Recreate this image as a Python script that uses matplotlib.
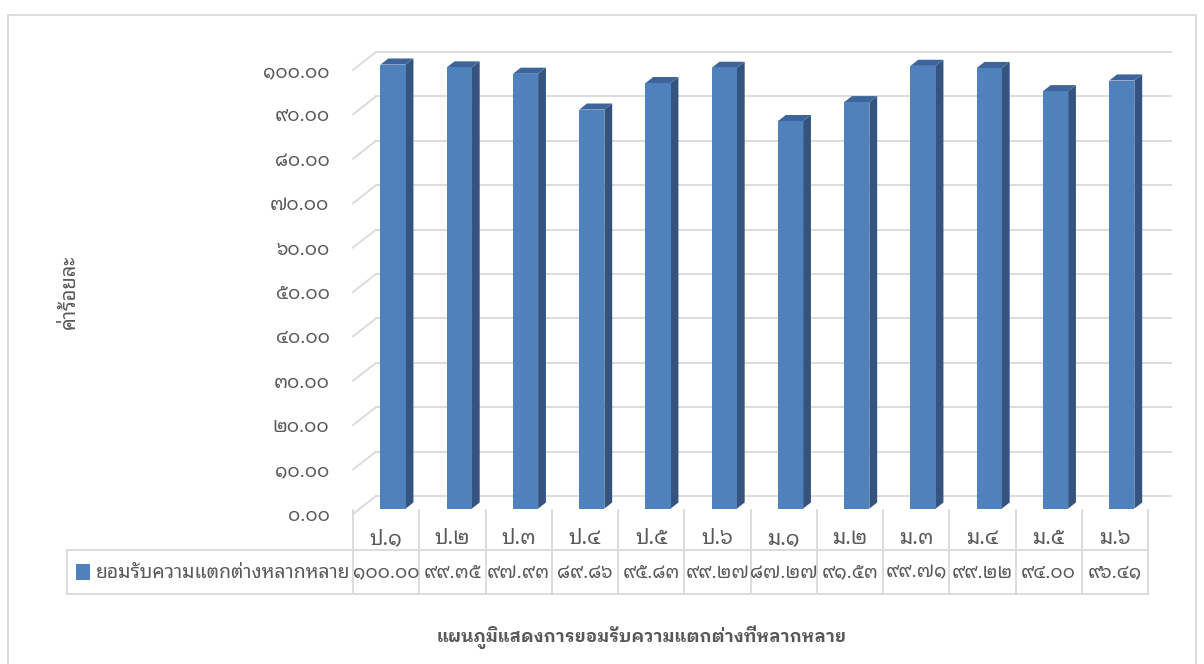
import matplotlib
matplotlib.use("Agg")
import matplotlib.pyplot as plt
from matplotlib.patches import Polygon, Rectangle

plt.rcParams['font.family'] = ['Noto Sans Thai Looped', 'DejaVu Sans']

# arabic -> thai digits
TH = str.maketrans('0123456789', '๐๑๒๓๔๕๖๗๘๙')

categories = ['ป.1', 'ป.2', 'ป.3', 'ป.4', 'ป.5', 'ป.6',
              'ม.1', 'ม.2', 'ม.3', 'ม.4', 'ม.5', 'ม.6']
values = [100.00, 99.35, 97.93, 89.86, 95.83, 99.27,
          87.27, 91.53, 99.71, 99.22, 94.00, 96.41]
series_name = 'ยอมรับความแตกต่างหลากหลาย'
title = 'แผนภูมิแสดงการยอมรับความแตกต่างที่หลากหลาย'
ylabel = 'ค่าร้อยละ'
yticks = [0, 10, 20, 30, 40, 50, 60, 70, 80, 90, 100]

grid_c = '#d9d9d9'
text_c = '#595959'
front_c = '#4f81bd'
side_c = '#34547f'
top_c = '#3d659c'

fig = plt.figure(figsize=(12.04, 6.64), dpi=100)
ax = fig.add_axes([353 / 1204, 1 - 514 / 664, 795 / 1204, 444 / 664])
ax.set_xlim(-0.5, len(categories) - 0.5)
ax.set_ylim(0, 100)
for s in ax.spines.values():
    s.set_visible(False)
ax.set_xticks([])
ax.set_yticks(yticks)
ax.set_yticklabels([('%.2f' % t).translate(TH) for t in yticks], color=text_c, fontsize=13.5)
ax.tick_params(axis='y', length=0, pad=17)

# depth of the 3d box in data units
DX = 23 / 66.25
DY = 18 / 4.44
xr_end = len(categories) - 0.5

# walls / gridlines
for t in yticks:
    ax.plot([-0.5, -0.5 + DX], [t, t + DY], color=grid_c, lw=1.3, clip_on=False)
    ax.plot([-0.5 + DX, xr_end + DX], [t + DY, t + DY], color=grid_c, lw=1.3, clip_on=False)

# 3d bars
w = 0.38
f0, f1 = 0.30, 0.64
d = f1 - f0
for i, v in enumerate(values):
    xl = i - w / 2 + f0 * DX
    xr = xl + w
    yb = f0 * DY
    yt = v + f0 * DY
    ax.add_patch(Polygon([(xr, yb), (xr + d * DX, yb + d * DY), (xr + d * DX, yt + d * DY), (xr, yt)],
                         closed=True, facecolor=side_c, edgecolor='none', clip_on=False, zorder=3))
    ax.add_patch(Polygon([(xl, yt), (xl + d * DX, yt + d * DY), (xr + d * DX, yt + d * DY), (xr, yt)],
                         closed=True, facecolor=top_c, edgecolor='none', clip_on=False, zorder=3))
    ax.add_patch(Rectangle((xl, yb), w, v, facecolor=front_c, edgecolor='none', clip_on=False, zorder=4))

# data table
tr = ax.get_xaxis_transform()
r0, r1, r2 = 0.009, -0.081, -0.180
leg_x = -0.5 - 286 / 66.25
for k in range(len(categories) + 1):
    ax.plot([k - 0.5, k - 0.5], [r0, r2], transform=tr, color=grid_c, lw=1.3, clip_on=False)
ax.plot([leg_x, leg_x], [r1, r2], transform=tr, color=grid_c, lw=1.3, clip_on=False)
ax.plot([leg_x, xr_end], [r1, r1], transform=tr, color=grid_c, lw=1.3, clip_on=False)
ax.plot([leg_x, xr_end], [r2, r2], transform=tr, color=grid_c, lw=1.3, clip_on=False)

for i, (c, v) in enumerate(zip(categories, values)):
    ax.text(i, -0.056, c.translate(TH), transform=tr, ha='center', va='center',
            fontsize=15, color=text_c)
    ax.text(i, -0.132, ('%.2f' % v).translate(TH), transform=tr, ha='center', va='center',
            fontsize=13.5, color=text_c)

ax.add_patch(Rectangle((-0.5 - 277 / 66.25, -0.149), 14 / 66.25, 0.036, transform=tr,
                       facecolor=front_c, edgecolor='none', clip_on=False))
ax.text(-0.5 - 257 / 66.25, -0.132, series_name, transform=tr, ha='left', va='center',
        fontsize=14, color=text_c)

fig.text(70 / 1204, 1 - 292 / 664, ylabel, rotation=90, ha='center', va='center',
         fontsize=14.5, color=text_c)
fig.text(642 / 1204, 1 - 637 / 664, title, ha='center', va='center',
         fontsize=12.5, fontweight='bold', color=text_c,
         family=['IBM Plex Sans Thai Looped', 'DejaVu Sans'])

# chart area border
fig.patches.append(Rectangle((8 / 1204, -0.02), 1188 / 1204, 1.02 - 15 / 664, transform=fig.transFigure,
                             facecolor='none', edgecolor=grid_c, lw=1.3))

fig.savefig('out.png')
